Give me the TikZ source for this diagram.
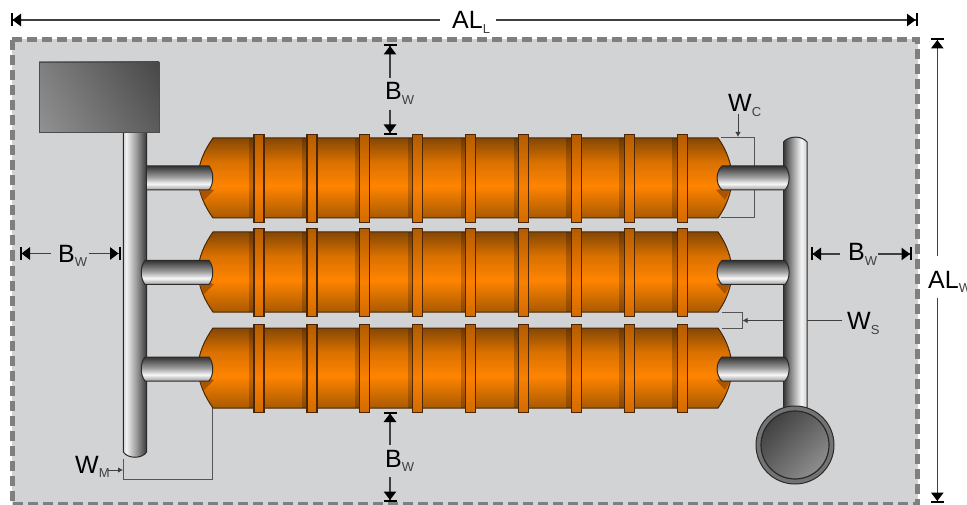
\documentclass[tikz,border=0pt]{standalone}
\usepackage{fontspec}
\setmainfont{Liberation Sans}
\usetikzlibrary{arrows.meta,shadings}
\definecolor{panelc}{HTML}{D2D3D5}
\definecolor{dashc}{HTML}{7F7F7F}
\definecolor{dimc}{HTML}{404040}
\definecolor{bracketc}{HTML}{555555}
\definecolor{subc}{HTML}{404040}
\definecolor{pipeedge}{HTML}{2A2A2A}
\definecolor{bandedge}{HTML}{4A2505}
\definecolor{wedgec}{HTML}{A85400}
\pgfdeclareverticalshading{vesselsh}{100bp}{
  rgb(0bp)=(.66,.35,0); rgb(25bp)=(.66,.35,0); rgb(45bp)=(1,.52,0);
  rgb(60bp)=(.85,.44,0); rgb(75bp)=(.52,.28,.02); rgb(100bp)=(.52,.28,.02)}
\pgfdeclareverticalshading{bandsh}{100bp}{
  rgb(0bp)=(.82,.42,0); rgb(25bp)=(.82,.42,0); rgb(45bp)=(.98,.50,0);
  rgb(75bp)=(.70,.36,0); rgb(100bp)=(.70,.36,0)}
\pgfdeclareverticalshading{branchsh}{100bp}{
  rgb(0bp)=(.62,.62,.62); rgb(25bp)=(.62,.62,.62); rgb(38bp)=(.97,.97,.97);
  rgb(52bp)=(.62,.62,.62); rgb(75bp)=(.20,.20,.20); rgb(100bp)=(.20,.20,.20)}
\pgfdeclarehorizontalshading{headerl}{100bp}{
  rgb(0bp)=(.80,.80,.80); rgb(25bp)=(.80,.80,.80); rgb(31bp)=(.95,.95,.95);
  rgb(52bp)=(.62,.62,.62); rgb(75bp)=(.22,.22,.22); rgb(100bp)=(.22,.22,.22)}
\pgfdeclarehorizontalshading{headerr}{100bp}{
  rgb(0bp)=(.22,.22,.22); rgb(25bp)=(.22,.22,.22); rgb(45bp)=(.62,.62,.62);
  rgb(63bp)=(.96,.96,.96); rgb(75bp)=(.82,.82,.82); rgb(100bp)=(.82,.82,.82)}
\newcommand{\dimtext}[2]{{\fontsize{25}{25}\selectfont #1}\raisebox{-4.5pt}{\fontsize{13}{13}\selectfont\color{subc}#2}}
\tikzset{
  dimlabel/.style={inner sep=0pt,anchor=base west,text=black},
  dimline/.style={draw=dimc,line width=1.3pt},
  dimend/.style={dimline,-{Triangle[length=8.5pt,width=12.5pt,sep=0pt,color=black]Bar[width=13pt,line width=2pt,color=black]}},
  smallarrow/.style={draw=dimc,line width=.9pt,-{Latex[length=5pt,width=5.5pt]}},
  bracket/.style={draw=bracketc,line width=1pt},
  pipeline/.style={draw=pipeedge,line width=1pt},
  bandbox/.style={draw=bandedge,line width=1.2pt,shading=bandsh},
}
\begin{document}
\begin{tikzpicture}[x=1pt,y=-1pt]
\useasboundingbox (0,0) rectangle (967,505);
\fill[white] (0,0) rectangle (967,505);
% panel
\fill[panelc] (12,39.5) rectangle (917.5,504.5);
\draw[dashc,line width=5pt,dash pattern=on 10pt off 5pt] (12,39.5) -- (917.5,39.5) -- (917.5,504.5) -- (12,504.5) -- cycle;

% named ends
\coordinate (alL1) at (10.5,20);
\coordinate (alL2) at (917.5,20);
\coordinate (alW1) at (937.3,38);
\coordinate (alW2) at (937.3,503);
\coordinate (bT1) at (390,44);
\coordinate (bT2) at (390,135);
\coordinate (bB1) at (390,411.5);
\coordinate (bB2) at (390,502);
\coordinate (bL1) at (19.5,253.5);
\coordinate (bL2) at (120.5,253.5);
\coordinate (bR1) at (810.5,254);
\coordinate (bR2) at (912,254);
\coordinate (wcTL) at (721,137.5);
\coordinate (wcTR) at (754,137.5);
\coordinate (wcBR) at (754,218);
\coordinate (wcBL) at (721,218);
\coordinate (wcTip) at (738,137);
\coordinate (wsT) at (722,312);
\coordinate (wsTR) at (742,312);
\coordinate (wsBR) at (742,328);
\coordinate (wsB) at (722,328);
\coordinate (wsTip) at (742.5,320.5);
\coordinate (wmT) at (123,459);
\coordinate (wmC) at (123,479);
\coordinate (wmR) at (212,479);
\coordinate (wmU) at (212,408);
\coordinate (wmTip) at (123,470);

% brackets (behind the pipes)
\draw[bracket] (wcTL) -- (wcTR) -- (wcBR) -- (wcBL);
\draw[bracket] (wsT) -- (wsTR) -- (wsBR) -- (wsB);
\draw[bracket] (wmT) -- (wmC) -- (wmR) -- (wmU);

% labels
\node[dimlabel] (lalL) at (452,29) {\dimtext{AL}{L}};
\node[dimlabel] (lalW) at (928,288) {\dimtext{AL}{W}};
\node[dimlabel] (lbT) at (385,100) {\dimtext{B}{W}};
\node[dimlabel] (lbB) at (385,467) {\dimtext{B}{W}};
\node[dimlabel] (lbL) at (58,262) {\dimtext{B}{W}};
\node[dimlabel] (lbR) at (848,261) {\dimtext{B}{W}};
\node[dimlabel] (lwC) at (728,112) {\dimtext{W}{C}};
\node[dimlabel] (lwS) at (847,330) {\dimtext{W}{S}};
\node[dimlabel] (lwM) at (75,473) {\dimtext{W}{M}};

% W_S leader passes behind the right header
\draw[smallarrow] ([xshift=-5pt]lwS.west |- wsTip) -- (wsTip);

% vessels
\foreach \y in {138,232,328}{
  \path[shading=vesselsh,draw=bandedge,line width=1pt]
    (213,\y) -- (718,\y)
    .. controls (726,\y+11) and (732,\y+26) .. (732,\y+40)
    .. controls (732,\y+54) and (726,\y+69) .. (718,\y+80)
    -- (213,\y+80)
    .. controls (205,\y+69) and (198,\y+54) .. (198,\y+40)
    .. controls (198,\y+26) and (205,\y+11) .. (213,\y) -- cycle;
  \fill[wedgec] (198.8,\y+49) .. controls (200,\y+53) and (201.5,\y+58) .. (204,\y+62) -- (214,\y+52) -- cycle;
  \fill[wedgec] (731.2,\y+49) .. controls (730,\y+53) and (727.5,\y+58) .. (725,\y+62) -- (716,\y+52) -- cycle;
  \foreach \i in {0,...,8}{
    \pgfmathsetmacro{\c}{259+52.9*\i}
    \fill[black,opacity=.2] (\c-10,\y+.5) rectangle (\c-5,\y+79.5);
    \path[bandbox] (\c-5,\y-3.5) rectangle (\c+5,\y+84.5);
  }
}

% headers
\path[shading=headerl,pipeline] (123.3,130) -- (146.7,130) -- (146.7,452)
  .. controls (142,459) and (128,459) .. (123.3,452) -- cycle;
\path[shading=headerr,pipeline] (783.5,410) -- (783.5,142)
  .. controls (789,135.5) and (802,135.5) .. (807,142) -- (807,410) -- cycle;

% branches
\path[shading=branchsh,pipeline] (147,166) -- (209,166)
  .. controls (214,172) and (214,184) .. (209,190) -- (147,190);
\foreach \y in {260.5,357}{
  \path[shading=branchsh,pipeline] (145,\y) -- (209,\y)
    .. controls (214,\y+6) and (214,\y+18) .. (209,\y+24) -- (145,\y+24)
    .. controls (140,\y+18) and (140,\y+6) .. (145,\y) -- cycle;
}
\foreach \y in {166,260.5,357}{
  \path[shading=branchsh,pipeline] (722,\y) -- (785,\y)
    .. controls (790.5,\y+6) and (790.5,\y+18) .. (785,\y+24) -- (722,\y+24)
    .. controls (715.5,\y+18) and (715.5,\y+6) .. (722,\y) -- cycle;
}

% box and drum
\path[draw=black!70,line width=.8pt,upper left=black!50,lower left=black!43,upper right=black!72,lower right=black!64]
  (39,62) rectangle (159,132);
\fill[black!55!white] (795,445) circle (39);
\draw[pipeedge,line width=1pt] (795,445) circle (39);
\path[draw=pipeedge,line width=1.2pt,upper left=black!80,upper right=black!60,lower left=black!60,lower right=black!38]
  (795,445) circle (34);

% dimension lines
\draw[dimend] ([xshift=-12pt]lalL.west |- alL1) -- (alL1);
\draw[dimend] ([xshift=6pt]lalL.east |- alL2) -- (alL2);
\draw[dimend] ([yshift=15pt]lalW.north -| alW1) -- (alW1);
\draw[dimend] ([yshift=-5pt]lalW.south -| alW2) -- (alW2);
\draw[dimend] ([yshift=5pt]lbT.north -| bT1) -- (bT1);
\draw[dimend] ([yshift=-5pt]lbT.south -| bT2) -- (bT2);
\draw[dimend] ([yshift=5pt]lbB.north -| bB1) -- (bB1);
\draw[dimend] ([yshift=-5pt]lbB.south -| bB2) -- (bB2);
\draw[dimend] ([xshift=-7pt]lbL.west |- bL1) -- (bL1);
\draw[dimend] ([xshift=2pt]lbL.east |- bL2) -- (bL2);
\draw[dimend] ([xshift=-8pt]lbR.west |- bR1) -- (bR1);
\draw[dimend] ([xshift=1pt]lbR.east |- bR2) -- (bR2);
\draw[smallarrow] ([yshift=3pt]lwC.south -| wcTip) -- (wcTip);
\draw[smallarrow] ([xshift=-2pt]lwM.east |- wmTip) -- (wmTip);
\draw[dimline,line width=1pt] ([xshift=-5pt]lwS.west |- wsTip) -- (807,320.5);
\end{tikzpicture}
\end{document}
